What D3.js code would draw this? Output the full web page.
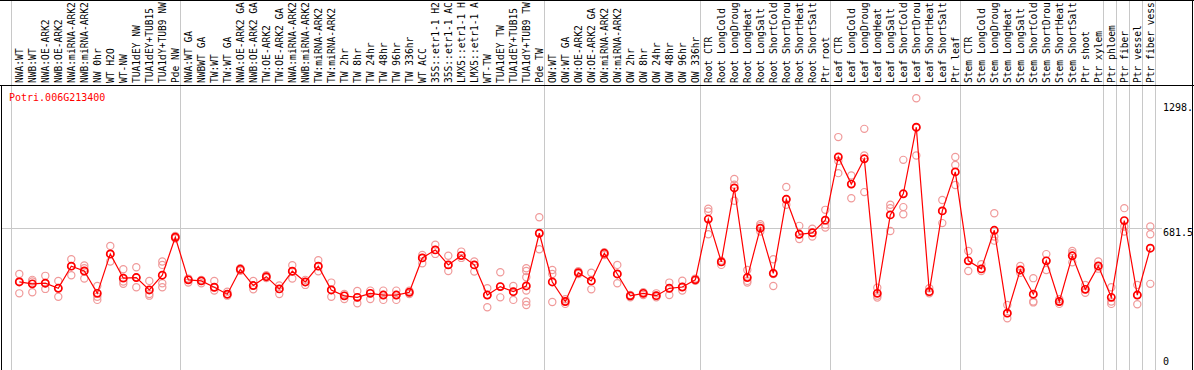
<!DOCTYPE html>
<html>
<head>
<meta charset="utf-8">
<script src="https://cdn.jsdelivr.net/npm/d3@7"></script>
<style>
body{margin:0;background:#fff;}
svg{display:block;}
</style>
</head>
<body>
<script>
var geneName='Potri.006G213400';
var samples=[
    'NWA:WT','NWB:WT','NWA:OE-ARK2','NWB:OE-ARK2','NWA:miRNA-ARK2','NWB:miRNA-ARK2','NW 0hr','WT H2O','WT-NW',
    'TUA1dEY NW','TUA1dEY+TUB15 NW','TUA1dY+TUB9 NW','Pde NW',
    'NWA:WT GA','NWBWT GA','TW:WT','TW:WT GA','NWA:OE-ARK2 GA','NWB:OE-ARK2 GA','TW:OE-ARK2','TW:OE-ARK2 GA',
    'NWA:miRNA-ARK2 GA','NWB:miRNA-ARK2 GA','TW:miRNA-ARK2','TW:miRNA-ARK2 GA',
    'TW 2hr','TW 8hr','TW 24hr','TW 48hr','TW 96hr','TW 336hr','WT ACC',
    '35S::etr1-1 H2O','35S::etr1-1 ACC','LMX5::etr1-1 H2O','LMX5::etr1-1 ACC',
    'WT-TW','TUA1dEY TW','TUA1dEY+TUB15 TW','TUA1dY+TUB9 TW','Pde TW',
    'OW:WT','OW:WT GA','OW:OE-ARK2','OW:OE-ARK2 GA','OW:miRNA-ARK2','OW:miRNA-ARK2 GA',
    'OW 2hr','OW 8hr','OW 24hr','OW 48hr','OW 96hr','OW 336hr',
    'Root CTR','Root LongCold','Root LongDrought','Root LongHeat','Root LongSalt',
    'Root ShortCold','Root ShortDrought','Root ShortHeat','Root ShortSalt','Ptr root',
    'Leaf CTR','Leaf LongCold','Leaf LongDrought','Leaf LongHeat','Leaf LongSalt',
    'Leaf ShortCold','Leaf ShortDrought','Leaf ShortHeat','Leaf ShortSalt','Ptr leaf',
    'Stem CTR','Stem LongCold','Stem LongDrought','Stem LongHeat','Stem LongSalt',
    'Stem ShortCold','Stem ShortDrought','Stem ShortHeat','Stem ShortSalt',
    'Ptr shoot','Ptr xylem','Ptr phloem','Ptr fiber','Ptr vessel','Ptr fiber vessel'
];
// mean expression per sample (red line)
var means=[
    427,418,421,397,502,479,373,560,445,448,389,459,639,
    437,432,402,369,487,410,452,394,478,427,502,389,
    361,354,373,365,365,378,541,579,508,552,508,
    365,405,381,408,658,
    427,334,471,432,563,465,361,373,362,397,403,437,
    725,522,873,448,682,468,819,653,660,720,
    1020,891,1011,373,745,845,1161,381,764,949,
    527,489,672,279,484,369,527,334,551,
    392,503,354,718,365,587
];
// replicate values (pale circles)
var reps=[
    [465,430,373],[437,429,378],[456,421,394],[432,397,357],[535,502,459],[505,492,443],[408,357,342],[598,560,524],[487,429,418],
    [497,448,402],[432,370,362],[524,508,421,402],[645,639,633],
    [443,437,424],[437,432,421],[432,402,386],[381,369,362],[492,487,480],[432,410,392],[459,452,446],[410,394,370],
    [506,478,443],[437,427,413],[530,502,478],[424,389,357],
    [370,361,346],[384,354,326],[386,373,346],[386,365,342],[386,365,342],[386,378,370],[555,541,516],
    [604,579,560],[551,508,479],[571,552,541],[524,508,476],
    [397,365,307],[473,405,354],[408,381,342],[492,479,449,386,334,318],[734,658,582],
    [484,465,332],[345,334,323],[478,471,465],[471,432,392],[568,563,555],[508,465,421],
    [365,361,354],[378,373,365],[373,362,354],[424,397,365],[433,403,386],[443,437,432],
    [774,761,653],[528,522,508],[915,888,812],[484,432,424],[701,692,666],
    [535,465,408],[877,819,793],[693,653,631],[679,660,642],[769,698,685],
    [1114,1001,943],[932,891,824],[1153,1027,853],[400,362,353],[793,777,669],
    [1006,782,748],[1298,1158,1027],[397,381,373],[816,764,706],[1020,982,887],
    [574,527,479],[511,489,479],[753,642,623],[318,279,255],[503,484,470],
    [445,334,330],[559,527,484],[345,334,323],[574,563,520],
    [413,392,376],[524,503,490],[402,334,323],[777,690,666],[413,365,321],[690,653,418]
];
// first sample index of each block (grey separators)
var groupStarts=[0,13,41,53,63,73,84,85,86,87,88];
var maxValue=1298;
var tickValues=[1298,681.5,0];
var tickLabels=['1298.','681.5','0'];

var width=1194,height=370;
var headerBottom=85;
var colWidth=13;
var left=11;
var maxChars=14; // header only has room for this many
var fontFamily="'DejaVu Sans Mono','Liberation Mono',monospace";

var svg=d3.select('body').append('svg')
    .attr('width',width)
    .attr('height',height);
svg.append('rect').attr('width',width).attr('height',height).attr('fill','#fff');

var x=d3.scaleBand()
    .domain(samples)
    .range([left,left+colWidth*samples.length])
    .padding(0);
var px=function(d){return x(d)+8.3;};
var y=d3.scaleLinear()
    .domain([0,maxValue*1.05])
    .range([372,84.6]);

// vertical separators
svg.append('g').selectAll('line')
    .data(groupStarts)
    .enter()
    .append('line')
    .attr('x1',function(d){return left+d*colWidth+0.5;})
    .attr('x2',function(d){return left+d*colWidth+0.5;})
    .attr('y1',0)
    .attr('y2',height)
    .attr('stroke','#c8c8c8')
    .attr('stroke-width',1);

// mid gridline
svg.append('line')
    .attr('x1',1)
    .attr('x2',1162)
    .attr('y1',Math.round(y(tickValues[1]))+0.5)
    .attr('y2',Math.round(y(tickValues[1]))+0.5)
    .attr('stroke','#c8c8c8')
    .attr('stroke-width',1);

// frame
svg.append('line').attr('x1',0).attr('x2',width).attr('y1',0.5).attr('y2',0.5).attr('stroke','#000');
svg.append('line').attr('x1',0).attr('x2',width).attr('y1',headerBottom+0.5).attr('y2',headerBottom+0.5).attr('stroke','#000');
svg.append('line').attr('x1',1.5).attr('x2',1.5).attr('y1',headerBottom).attr('y2',height).attr('stroke','#000');
svg.append('line').attr('x1',1192.5).attr('x2',1192.5).attr('y1',0).attr('y2',height).attr('stroke','#000');

// sample labels, cut to what fits in the header
svg.append('g')
    .selectAll('text')
    .data(samples)
    .enter()
    .append('text')
    .attr('transform',function(d){return 'translate('+(px(d)+3.8)+','+(headerBottom-2)+') rotate(-90)';})
    .attr('font-family',fontFamily)
    .attr('font-size','9.6px')
    .attr('fill','#000')
    .text(function(d){return d.length>maxChars?d.slice(0,maxChars).trim():d;});

// gene name
svg.append('text')
    .attr('x',9)
    .attr('y',101)
    .attr('font-family',fontFamily)
    .attr('font-size','10px')
    .attr('fill','#f00')
    .text(geneName);

// value labels on the right
svg.append('g').selectAll('text')
    .data(tickValues)
    .enter()
    .append('text')
    .attr('x',1163)
    .attr('y',function(d,i){
        if(i==0)return y(d)+12.5;
        return Math.min(y(d)+8,365);
    })
    .attr('font-family',fontFamily)
    .attr('font-size','10px')
    .attr('fill','#000')
    .text(function(d,i){return tickLabels[i];});

// replicates
var repPoints=[];
samples.forEach(function(s,i){
    reps[i].forEach(function(v){repPoints.push({s:s,v:v});});
});
svg.append('g').selectAll('circle')
    .data(repPoints)
    .enter()
    .append('circle')
    .attr('cx',function(d){return px(d.s);})
    .attr('cy',function(d){return y(d.v);})
    .attr('r',3.6)
    .attr('fill','none')
    .attr('stroke','#f09a9a')
    .attr('stroke-width',1.2);

// mean line
var line=d3.line()
    .x(function(d,i){return px(samples[i]);})
    .y(function(d){return y(d);});
svg.append('path')
    .datum(means)
    .attr('d',line)
    .attr('fill','none')
    .attr('stroke','#f00')
    .attr('stroke-width',1.2);

svg.append('g').selectAll('circle')
    .data(means)
    .enter()
    .append('circle')
    .attr('cx',function(d,i){return px(samples[i]);})
    .attr('cy',function(d){return y(d);})
    .attr('r',3.6)
    .attr('fill','none')
    .attr('stroke','#f00')
    .attr('stroke-width',1.7);
</script>
</body>
</html>
